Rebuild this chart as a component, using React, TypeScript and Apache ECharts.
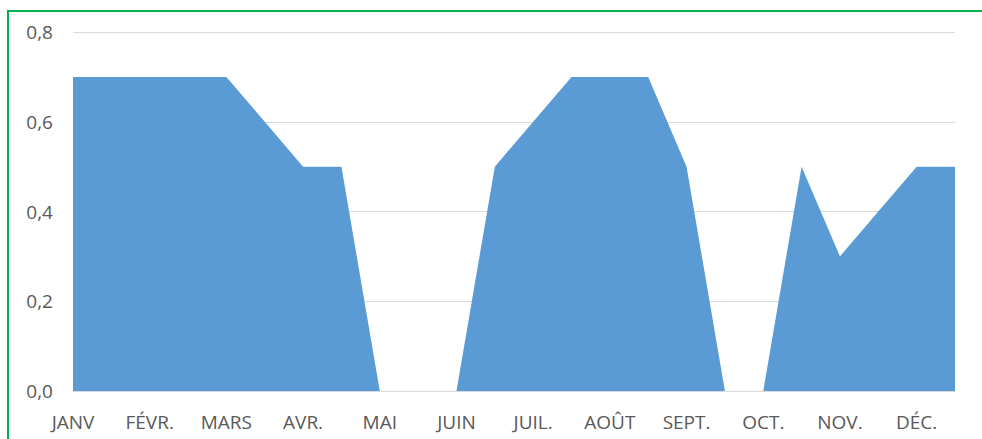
import React, { useEffect, useRef } from "react";
import * as echarts from "echarts";

const months = ["JANV", "FÉVR.", "MARS", "AVR.", "MAI", "JUIN", "JUIL.", "AOÛT", "SEPT.", "OCT.", "NOV.", "DÉC."];
// two points per month (month start and mid-month)
const categories: string[] = months.flatMap((m) => [m, ""]);
const values = [
  0.7, 0.7, 0.7, 0.7, 0.7, 0.6, 0.5, 0.5,
  0, 0, 0, 0.5, 0.6, 0.7, 0.7, 0.7,
  0.5, 0, 0, 0.5, 0.3, 0.4, 0.5, 0.5,
];
const yMin = 0;
const yMax = 0.8;
const yInterval = 0.2;

export default function App() {
  const ref = useRef<HTMLDivElement>(null);
  useEffect(() => {
    if (!ref.current) return;
    const chart = echarts.init(ref.current, null, { renderer: "svg" });
    const font = "'Open Sans', 'Noto Sans', sans-serif";
    chart.setOption({
      animation: false,
      backgroundColor: "#ffffff",
      grid: { left: 73, right: 27, top: 32, bottom: 48, containLabel: false },
      xAxis: {
        type: "category",
        boundaryGap: false,
        data: categories,
        axisLine: { show: true, lineStyle: { color: "#d9d9d9" } },
        axisTick: { show: false },
        axisLabel: {
          interval: 0,
          margin: 21,
          color: "#595959",
          fontSize: 19,
          fontFamily: font,
        },
        splitLine: { show: false },
      },
      yAxis: {
        type: "value",
        min: yMin,
        max: yMax,
        interval: yInterval,
        axisLine: { show: false },
        axisTick: { show: false },
        axisLabel: {
          margin: 20,
          color: "#595959",
          fontSize: 19,
          fontFamily: font,
          formatter: (v: number) => v.toFixed(1).replace(".", ","),
        },
        splitLine: { show: true, lineStyle: { color: "#d9d9d9", width: 1 } },
      },
      series: [
        {
          type: "line",
          data: values,
          symbol: "none",
          lineStyle: { width: 0, color: "#5b9bd5" },
          areaStyle: { color: "#5b9bd5", opacity: 1 },
          itemStyle: { color: "#5b9bd5" },
        },
      ],
      graphic: [
        {
          type: "rect",
          silent: true,
          z: 100,
          shape: { x: 8, y: 11, width: 1000, height: 450 },
          style: { fill: "none", stroke: "#00b050", lineWidth: 2 },
        },
      ],
    });
    return () => chart.dispose();
  }, []);
  return (
    <div
      ref={ref}
      style={{ position: "fixed", left: 0, top: 0, width: 982, height: 439 }}
    />
  );
}
